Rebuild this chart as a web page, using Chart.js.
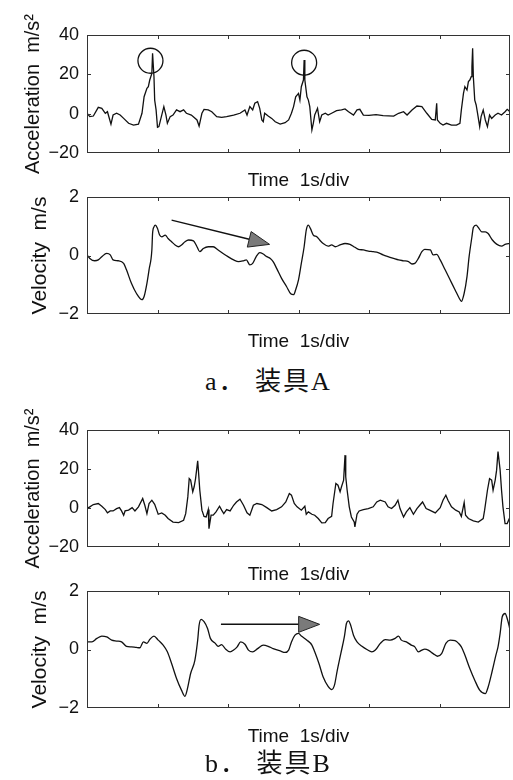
<!DOCTYPE html>
<html>
<head>
<meta charset="utf-8">
<title>装具A / 装具B</title>
<script src="https://cdn.jsdelivr.net/npm/chart.js@4.4.1/dist/chart.umd.min.js"></script>
<style>
  html, body { margin: 0; padding: 0; background: #fff; }
  #page { position: relative; width: 513px; height: 780px; overflow: hidden; }
  #page canvas { position: absolute; left: 0; }
  .cap {
    position: absolute; left: 205px; height: 26px; line-height: 26px;
    font-family: "Liberation Serif", "Noto Sans CJK JP", serif;
    font-size: 26px; color: #111; letter-spacing: 2px; white-space: pre;
  }
</style>
</head>
<body>
<div id="page">
  <canvas id="accA" width="513" height="196" style="top:0px"></canvas>
  <canvas id="velA" width="513" height="182" style="top:178px"></canvas>
  <div class="cap" style="top:369px">a． 装具A</div>
  <canvas id="accB" width="513" height="195" style="top:395px"></canvas>
  <canvas id="velB" width="513" height="178" style="top:572px"></canvas>
  <div class="cap" style="top:751px">b． 装具B</div>
</div>

<script>
'use strict';

/* ── Data: [time s, value] ── */
const accelA = [
  [0.00,0.2],[0.04,-1.5],[0.09,-1.2],[0.16,3.2],[0.21,2.7],[0.26,0.2],[0.29,1.0],[0.34,-5.3],[0.37,-0.7],[0.42,0.2],
  [0.47,-0.7],[0.52,-2.4],[0.59,-4.9],[0.66,-5.8],[0.73,-5.3],[0.78,0.2],[0.81,8.6],[0.85,12.9],[0.87,13.7],[0.89,17.1],
  [0.92,20.5],[0.93,30.7],[0.95,18.8],[0.96,6.9],[0.98,1.9],[1.00,-6.9],[1.02,-6.6],[1.06,-0.7],[1.09,3.6],[1.12,-0.7],
  [1.14,-4.9],[1.18,-1.5],[1.22,-0.7],[1.27,1.9],[1.32,1.0],[1.37,1.9],[1.41,0.2],[1.48,-0.7],[1.56,-3.2],[1.59,-6.3],
  [1.63,0.2],[1.66,2.2],[1.72,1.9],[1.77,1.0],[1.84,-1.5],[1.91,-1.9],[1.98,-1.5],[2.08,-0.7],[2.17,0.2],[2.24,1.9],
  [2.27,-0.7],[2.31,3.6],[2.35,1.9],[2.38,5.3],[2.42,6.1],[2.45,2.7],[2.48,-3.2],[2.50,-4.1],[2.52,0.2],[2.57,-1.2],
  [2.62,-2.4],[2.67,-4.1],[2.74,-5.3],[2.81,-4.6],[2.86,-3.2],[2.90,0.2],[2.93,3.6],[2.96,8.6],[3.00,10.3],[3.02,6.9],
  [3.04,13.7],[3.07,17.1],[3.08,27.3],[3.09,17.1],[3.12,8.6],[3.14,6.9],[3.16,3.6],[3.19,-8.3],[3.21,-4.9],[3.23,-0.7],
  [3.27,2.7],[3.30,-4.1],[3.33,-0.7],[3.38,0.2],[3.42,-0.7],[3.47,0.2],[3.54,1.5],[3.61,1.9],[3.66,2.4],[3.71,1.0],
  [3.78,-0.7],[3.83,1.9],[3.87,2.2],[3.92,-0.7],[4.00,-0.9],[4.10,-0.5],[4.20,-1.0],[4.35,-1.2],[4.42,0.2],[4.49,1.0],
  [4.54,-0.7],[4.61,1.9],[4.68,3.9],[4.75,3.6],[4.82,0.2],[4.89,-2.9],[4.94,-3.2],[4.96,5.3],[4.97,-3.2],[5.01,-4.9],
  [5.05,-5.8],[5.10,-4.9],[5.17,-5.8],[5.24,-5.8],[5.29,-4.9],[5.31,1.9],[5.34,10.3],[5.36,13.7],[5.39,12.0],[5.41,16.3],
  [5.43,17.1],[5.45,18.8],[5.46,23.9],[5.47,33.2],[5.48,18.8],[5.50,6.9],[5.52,4.4],[5.54,0.2],[5.57,-6.6],[5.59,-1.5],
  [5.62,1.9],[5.65,-3.2],[5.68,-6.6],[5.71,-0.7],[5.74,-2.4],[5.79,-0.7],[5.83,0.2],[5.88,-0.7],[5.93,1.0],[5.96,2.2],
  [6.00,1.0]
];

const velocityA = [
  [0.00,0.02],[0.04,-0.10],[0.11,-0.18],[0.16,-0.15],[0.21,-0.04],[0.28,0.07],[0.33,0.02],[0.37,-0.15],[0.44,-0.18],[0.52,-0.27],
  [0.56,-0.49],[0.63,-0.95],[0.70,-1.29],[0.78,-1.51],[0.81,-1.40],[0.85,-0.95],[0.88,-0.49],[0.92,0.19],[0.93,0.75],[0.95,0.98],
  [0.97,1.04],[1.00,0.92],[1.03,0.70],[1.06,0.64],[1.11,0.70],[1.15,0.58],[1.20,0.47],[1.25,0.36],[1.30,0.30],[1.34,0.36],
  [1.39,0.47],[1.44,0.53],[1.51,0.50],[1.56,0.30],[1.60,0.13],[1.65,0.24],[1.72,0.30],[1.79,0.30],[1.86,0.19],[1.93,0.07],
  [2.00,-0.04],[2.08,-0.15],[2.15,-0.21],[2.22,-0.18],[2.26,-0.15],[2.31,-0.32],[2.35,-0.27],[2.40,-0.04],[2.45,0.10],[2.50,0.05],
  [2.55,-0.04],[2.60,-0.10],[2.64,-0.21],[2.69,-0.44],[2.76,-0.78],[2.83,-1.06],[2.89,-1.31],[2.93,-1.34],[2.96,-1.17],[3.00,-0.83],
  [3.04,-0.27],[3.08,0.30],[3.11,0.87],[3.14,1.04],[3.17,0.92],[3.21,0.70],[3.26,0.64],[3.30,0.53],[3.35,0.41],[3.42,0.32],
  [3.47,0.36],[3.52,0.30],[3.59,0.36],[3.66,0.41],[3.73,0.38],[3.80,0.28],[3.85,0.21],[3.92,0.19],[3.99,0.15],[4.06,0.13],
  [4.13,0.10],[4.20,0.02],[4.27,-0.04],[4.35,-0.10],[4.42,-0.15],[4.49,-0.18],[4.56,-0.21],[4.61,-0.29],[4.65,-0.27],[4.70,-0.10],
  [4.75,0.13],[4.79,0.21],[4.87,0.19],[4.91,0.02],[4.96,0.04],[5.01,-0.15],[5.08,-0.49],[5.15,-0.83],[5.22,-1.17],[5.28,-1.46],
  [5.31,-1.57],[5.35,-1.29],[5.39,-0.72],[5.42,-0.04],[5.46,0.64],[5.48,0.96],[5.52,1.04],[5.55,0.96],[5.60,0.81],[5.65,0.81],
  [5.69,0.75],[5.75,0.53],[5.81,0.39],[5.88,0.32],[5.94,0.39],[6.00,0.41]
];

const accelB = [
  [0.00,-0.3],[0.04,0.6],[0.09,1.8],[0.16,2.3],[0.21,0.9],[0.26,-0.8],[0.29,-2.5],[0.33,-1.5],[0.37,-1.5],[0.42,-0.3],
  [0.46,0.2],[0.49,-1.5],[0.52,-3.7],[0.54,-1.5],[0.59,-1.1],[0.64,0.2],[0.68,-1.5],[0.73,0.6],[0.79,4.9],[0.82,1.4],
  [0.85,-2.9],[0.88,2.3],[0.92,4.0],[0.96,1.9],[1.01,-3.2],[1.06,-2.5],[1.11,-3.7],[1.15,-5.4],[1.22,-7.2],[1.30,-7.5],
  [1.37,-6.3],[1.40,-2.9],[1.43,5.7],[1.45,15.1],[1.47,14.3],[1.50,8.3],[1.52,10.9],[1.54,15.1],[1.56,21.1],[1.57,24.2],
  [1.58,19.4],[1.60,9.1],[1.63,-1.1],[1.66,-4.3],[1.69,-4.6],[1.72,-0.8],[1.73,-10.6],[1.76,-3.7],[1.79,-3.7],[1.83,-2.0],
  [1.88,0.9],[1.91,-1.1],[1.94,-2.9],[1.98,-0.8],[2.03,-1.5],[2.08,1.4],[2.12,3.1],[2.17,4.5],[2.22,1.4],[2.27,-2.5],
  [2.31,-3.7],[2.36,1.4],[2.41,2.3],[2.48,1.8],[2.55,0.2],[2.62,-1.5],[2.69,-0.8],[2.76,0.6],[2.82,3.1],[2.87,7.4],
  [2.90,6.6],[2.94,2.3],[2.98,0.6],[3.04,-1.1],[3.09,0.9],[3.11,-3.2],[3.14,-2.0],[3.19,-3.2],[3.23,-3.7],[3.28,-5.4],
  [3.33,-7.6],[3.38,-7.5],[3.42,-5.4],[3.47,-4.3],[3.49,2.3],[3.53,12.6],[3.56,11.7],[3.59,8.3],[3.61,10.9],[3.64,14.3],
  [3.66,27.1],[3.67,16.0],[3.69,9.1],[3.72,0.6],[3.75,-4.6],[3.79,-7.1],[3.80,-9.7],[3.83,-3.2],[3.86,-1.5],[3.92,-0.8],
  [3.99,-0.3],[4.06,0.6],[4.11,3.1],[4.16,4.0],[4.23,3.1],[4.27,0.6],[4.32,-0.3],[4.37,1.4],[4.41,4.0],[4.44,-0.3],
  [4.49,-4.6],[4.53,-2.0],[4.58,0.2],[4.63,-3.2],[4.68,-0.3],[4.72,1.4],[4.76,3.1],[4.81,-0.3],[4.86,-1.1],[4.94,-2.5],
  [5.01,0.2],[5.05,4.0],[5.09,6.6],[5.12,4.0],[5.17,0.6],[5.23,-1.1],[5.28,-2.0],[5.31,-4.3],[5.35,2.8],[5.37,-3.7],
  [5.41,-5.4],[5.48,-6.6],[5.55,-7.2],[5.62,-5.4],[5.64,-1.1],[5.68,9.1],[5.71,15.1],[5.74,14.3],[5.76,9.1],[5.79,14.3],
  [5.81,19.4],[5.83,28.9],[5.86,19.4],[5.88,9.1],[5.90,0.6],[5.93,-8.0],[5.96,-8.0],[6.00,-4.6]
];

const velocityB = [
  [0.00,0.26],[0.07,0.26],[0.14,0.38],[0.21,0.46],[0.28,0.43],[0.35,0.32],[0.42,0.29],[0.49,0.26],[0.56,0.11],[0.63,0.09],
  [0.70,0.07],[0.75,0.06],[0.80,0.26],[0.85,0.21],[0.89,0.34],[0.95,0.46],[1.01,0.32],[1.08,0.15],[1.14,-0.08],[1.20,-0.48],
  [1.27,-0.99],[1.34,-1.39],[1.39,-1.60],[1.42,-1.39],[1.47,-0.82],[1.53,-0.37],[1.57,0.32],[1.59,0.83],[1.62,1.03],[1.66,0.95],
  [1.71,0.72],[1.75,0.38],[1.82,0.21],[1.86,0.11],[1.91,0.17],[1.96,0.03],[2.03,-0.08],[2.08,-0.02],[2.13,0.09],[2.18,0.26],
  [2.24,0.18],[2.29,-0.02],[2.35,-0.08],[2.42,0.03],[2.50,0.15],[2.57,0.11],[2.64,0.03],[2.74,-0.05],[2.81,-0.10],[2.86,-0.02],
  [2.90,0.26],[2.95,0.49],[3.00,0.55],[3.04,0.46],[3.12,0.32],[3.19,0.15],[3.23,-0.08],[3.29,-0.48],[3.35,-0.94],[3.42,-1.26],
  [3.47,-1.37],[3.51,-1.22],[3.55,-0.71],[3.60,-0.14],[3.65,0.43],[3.68,0.89],[3.71,0.98],[3.74,0.83],[3.78,0.49],[3.83,0.26],
  [3.90,0.11],[3.97,0.00],[4.04,-0.08],[4.09,-0.02],[4.16,0.21],[4.23,0.34],[4.30,0.32],[4.37,0.38],[4.42,0.46],[4.46,0.32],
  [4.53,0.26],[4.60,0.15],[4.65,0.09],[4.70,-0.08],[4.75,-0.02],[4.79,0.01],[4.84,-0.02],[4.91,-0.14],[4.97,-0.23],[5.03,-0.14],
  [5.09,0.21],[5.15,0.32],[5.22,0.30],[5.27,0.21],[5.31,0.09],[5.36,-0.19],[5.43,-0.65],[5.50,-1.05],[5.57,-1.39],[5.65,-1.51],
  [5.69,-1.28],[5.75,-0.71],[5.80,-0.19],[5.83,0.09],[5.86,0.55],[5.89,1.12],[5.93,1.23],[5.96,1.06],[5.99,0.78],[6.00,0.66]
];

/* ── Axes ── */
const timeRange  = [0, 6];         // s, 1 s per division
const accelTicks = [-20, 40, 20];  // min, max, step
const velTicks   = [-2, 2, 2];

/* ── Annotations (data units) ── */
const peakCircles = [[0.90, 26.9], [3.08, 25.9]];
const arrowA      = [[1.20, 1.21], [2.59, 0.38]];
const arrowB      = [[1.90, 0.86], [3.30, 0.86]];

const FONT = '"Liberation Sans", Arial, sans-serif';
const INK  = '#111';

/* frame + inward MATLAB-style ticks */
const framePlugin = {
    id: 'frame',
    afterDatasetsDraw(chart) {
        const { ctx, chartArea: a, scales: { x, y } } = chart;
        ctx.save();
        ctx.strokeStyle = '#333'; ctx.lineWidth = 1;
        ctx.strokeRect(a.left + 0.5, a.top + 0.5, a.width - 1, a.height - 1);
        ctx.beginPath();
        x.ticks.forEach(t => {
            if (t.value <= x.min || t.value >= x.max) return;
            const px = Math.round(x.getPixelForValue(t.value)) + 0.5;
            ctx.moveTo(px, a.top);    ctx.lineTo(px, a.top + 4);
            ctx.moveTo(px, a.bottom); ctx.lineTo(px, a.bottom - 4);
        });
        y.ticks.forEach(t => {
            if (t.value <= y.min || t.value >= y.max) return;
            const py = Math.round(y.getPixelForValue(t.value)) + 0.5;
            ctx.moveTo(a.left, py);  ctx.lineTo(a.left + 4, py);
            ctx.moveTo(a.right, py); ctx.lineTo(a.right - 4, py);
        });
        ctx.stroke();
        ctx.restore();
    }
};

function marksPlugin(marks) {
    return {
        id: 'marks',
        afterDatasetsDraw(chart) {
            const { ctx, scales: { x, y } } = chart;
            ctx.save();
            (marks.circles || []).forEach(([t, v]) => {
                ctx.beginPath();
                ctx.arc(x.getPixelForValue(t), y.getPixelForValue(v), 12.5, 0, Math.PI * 2);
                ctx.strokeStyle = INK; ctx.lineWidth = 1.3; ctx.stroke();
            });
            (marks.arrows || []).forEach(([from, to]) => {
                const x0 = x.getPixelForValue(from[0]), y0 = y.getPixelForValue(from[1]);
                const x1 = x.getPixelForValue(to[0]),   y1 = y.getPixelForValue(to[1]);
                const ang = Math.atan2(y1 - y0, x1 - x0);
                const L = 21, W = 8;
                const bx = x1 - L * Math.cos(ang), by = y1 - L * Math.sin(ang);
                ctx.beginPath();
                ctx.moveTo(x0, y0); ctx.lineTo(bx, by);
                ctx.strokeStyle = INK; ctx.lineWidth = 1.5; ctx.stroke();
                ctx.beginPath();
                ctx.moveTo(x1, y1);
                ctx.lineTo(bx + W * Math.sin(ang), by - W * Math.cos(ang));
                ctx.lineTo(bx - W * Math.sin(ang), by + W * Math.cos(ang));
                ctx.closePath();
                ctx.fillStyle = '#7a7a7a'; ctx.fill();
                ctx.strokeStyle = '#222'; ctx.lineWidth = 1; ctx.stroke();
            });
            ctx.restore();
        }
    };
}

const minusFmt = v => v < 0 ? '\u2212' + Math.abs(v) : String(v);

function makePanel(id, cfg) {
    const [yMin, yMax, yStep] = cfg.yTicks;
    return new Chart(document.getElementById(id), {
        type: 'line',
        data: {
            datasets: [{
                data: cfg.points.map(([t, v]) => ({ x: t, y: v })),
                borderColor: INK, borderWidth: 1.3,
                pointRadius: 0, fill: false,
                tension: cfg.smooth ? 0.35 : 0,
                cubicInterpolationMode: cfg.smooth ? 'monotone' : 'default'
            }]
        },
        options: {
            responsive: false, animation: false, events: [],
            layout: { padding: { top: cfg.padTop, right: 3, left: 0, bottom: 0 } },
            plugins: { legend: { display: false }, tooltip: { enabled: false } },
            scales: {
                x: {
                    type: 'linear', min: timeRange[0], max: timeRange[1],
                    ticks: { display: false, stepSize: 1 },
                    grid: { display: false, drawTicks: false }, border: { display: false },
                    title: { display: true, text: 'Time  1s/div', color: INK,
                             font: { family: FONT, size: 19 }, padding: { top: 0, bottom: cfg.xTitlePad } },
                    afterFit: s => { s.height = cfg.xHeight; }
                },
                y: {
                    min: yMin, max: yMax,
                    ticks: { stepSize: yStep, padding: 8, color: INK, font: { family: FONT, size: 18 }, callback: minusFmt },
                    grid: { display: false, drawTicks: false }, border: { display: false },
                    title: { display: true, text: cfg.yTitle, color: INK,
                             font: { family: FONT, size: cfg.yTitleSize }, padding: { top: cfg.yTitlePad, bottom: 0 } },
                    afterFit: s => { s.width = 87; }
                }
            }
        },
        plugins: [framePlugin, marksPlugin(cfg.marks || {})]
    });
}

makePanel('accA', { points: accelA, yTicks: accelTicks, yTitle: 'Acceleration  m/s\u00B2', yTitleSize: 20,
    padTop: 35, xHeight: 43, xTitlePad: 4, yTitlePad: 21, marks: { circles: peakCircles } });
makePanel('velA', { points: velocityA, yTicks: velTicks, yTitle: 'Velocity  m/s', yTitleSize: 21, smooth: true,
    padTop: 19, xHeight: 46, xTitlePad: 7, yTitlePad: 28, marks: { arrows: [arrowA] } });
makePanel('accB', { points: accelB, yTicks: accelTicks, yTitle: 'Acceleration  m/s\u00B2', yTitleSize: 20,
    padTop: 35, xHeight: 43, xTitlePad: 4, yTitlePad: 21 });
makePanel('velB', { points: velocityB, yTicks: velTicks, yTitle: 'Velocity  m/s', yTitleSize: 21, smooth: true,
    padTop: 19, xHeight: 42, xTitlePad: 2, yTitlePad: 28, marks: { arrows: [arrowB] } });
</script>
</body>
</html>
